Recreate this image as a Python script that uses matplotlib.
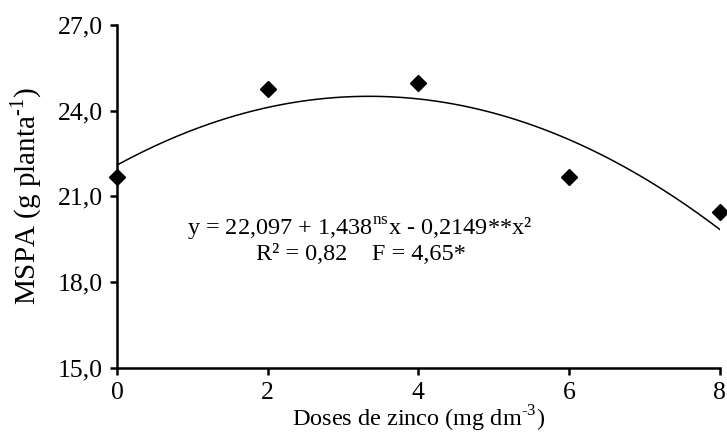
import numpy as np
import matplotlib
matplotlib.use("Agg")
import matplotlib.pyplot as plt

plt.rcParams['font.family'] = ['Liberation Serif', 'DejaVu Serif']
plt.rcParams['mathtext.fontset'] = 'custom'
plt.rcParams['mathtext.rm'] = 'Liberation Serif'

doses = [0, 2, 4, 6, 8]
mspa = [21.68, 24.76, 24.97, 21.68, 20.45]
coef = [22.097, 1.438, -0.2149]
x_ticks = [0, 2, 4, 6, 8]
y_ticks = [15.0, 18.0, 21.0, 24.0, 27.0]
y_labels = ["15,0", "18,0", "21,0", "24,0", "27,0"]

fig = plt.figure(figsize=(7.27, 4.37), dpi=100)
ax = fig.add_axes([0.161, 0.158, 0.829, 0.785])

xs = np.linspace(0, 8, 200)
ys = coef[0] + coef[1] * xs + coef[2] * xs ** 2
ax.plot(xs, ys, color='black', linewidth=1.1)
ax.plot(doses, mspa, linestyle='none', marker='D', markersize=8.5,
        color='black', clip_on=False)

ax.set_xlim(0, 8)
ax.set_ylim(15, 27)
ax.set_xticks(x_ticks)
ax.set_xticklabels([str(v) for v in x_ticks])
ax.set_yticks(y_ticks)
ax.set_yticklabels(y_labels)

for side in ['top', 'right']:
    ax.spines[side].set_visible(False)
for side in ['left', 'bottom']:
    ax.spines[side].set_linewidth(1.8)
ax.tick_params(axis='both', direction='out', width=1.8, length=5,
               labelsize=18.5, pad=5)

ax.set_xlabel('Doses de zinco (mg dm$^{\\text{-3}}$)', fontsize=17.5, labelpad=0)
ax.set_ylabel('MSPA (g planta$^{\\text{-1}}$)', fontsize=21, labelpad=10)

ax.text(0.403, 0.405, 'y = 22,097 + 1,438$^{\\mathrm{ns}}$x - 0,2149**x²',
        transform=ax.transAxes, ha='center', va='center', fontsize=17.5)
ax.text(0.405, 0.33, 'R² = 0,82    F = 4,65*',
        transform=ax.transAxes, ha='center', va='center', fontsize=17.5)

fig.savefig('out.png', dpi=100)
